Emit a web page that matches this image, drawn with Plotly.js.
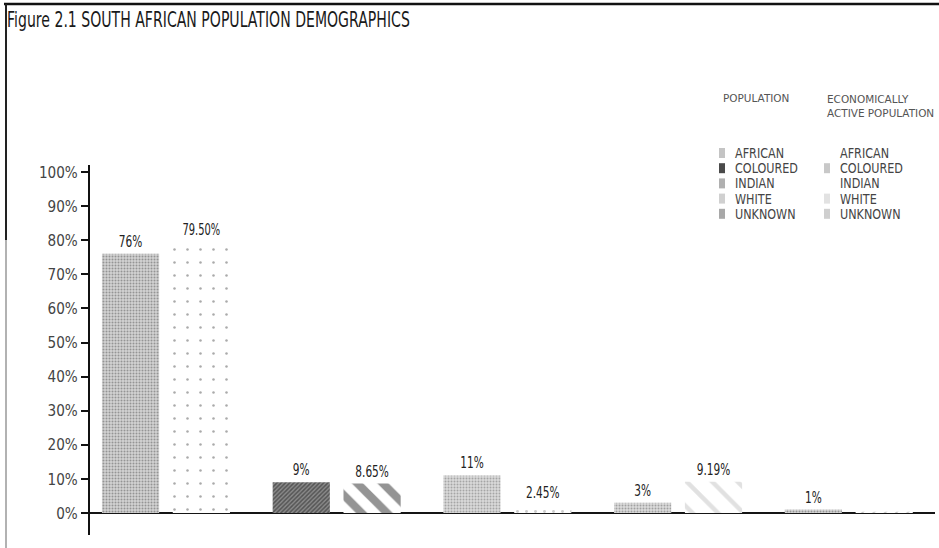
<!DOCTYPE html>
<html>
<head>
<meta charset="utf-8">
<script src="https://cdn.plot.ly/plotly-3.0.1.min.js"></script>
<style>
  html, body { margin: 0; padding: 0; background: #ffffff; }
  #chart { width: 939px; height: 548px; }
</style>
</head>
<body>
<div id="chart"></div>
<script>
// South African population vs. economically active population, by group (%)
const categories = ['AFRICAN', 'COLOURED', 'INDIAN', 'WHITE', 'UNKNOWN'];
const population = [76, 9, 11, 3, 1];
const activePopulation = [79.5, 8.65, 2.45, 9.19, 0.4];
const populationLabels = ['76%', '9%', '11%', '3%', '1%'];
const activeLabels = ['79.50%', '8.65%', '2.45%', '9.19%', ''];
const yTicks = [0, 10, 20, 30, 40, 50, 60, 70, 80, 90, 100];
const yTickText = ['0%', '10%', '20%', '30%', '40%', '50%', '60%', '70%', '80%', '90%', '100%'];
const legendHeads = ['POPULATION', 'ECONOMICALLY<br>ACTIVE POPULATION'];

const FONT = 'DejaVu Sans, sans-serif';

// Fill textures, one per group, for each series (+ a flat tone for the key swatch)
const popPatterns = [
  { color: '#d2d2d2', swatch: '#c4c4c4', pattern: { shape: '.', fillmode: 'overlay', fgcolor: '#555', size: 3, solidity: 0.35 } },
  { color: '#8a8a8a', swatch: '#4a4a4a', pattern: { shape: '/', fillmode: 'overlay', fgcolor: '#1e1e1e', size: 3, solidity: 0.5 } },
  { color: '#dadada', swatch: '#b0b0b0', pattern: { shape: '.', fillmode: 'overlay', fgcolor: '#707070', size: 3, solidity: 0.35 } },
  { color: '#dcdcdc', swatch: '#d0d0d0', pattern: { shape: '.', fillmode: 'overlay', fgcolor: '#666', size: 3, solidity: 0.35 } },
  { color: '#d6d6d6', swatch: '#a8a8a8', pattern: { shape: '.', fillmode: 'overlay', fgcolor: '#555', size: 3, solidity: 0.35 } }
];
const activePatterns = [
  { color: '#ffffff', swatch: '#ffffff', pattern: { shape: '.', fillmode: 'overlay', fgcolor: '#555', size: 13, solidity: 0.03 } },
  { color: '#ffffff', swatch: '#c8c8c8', pattern: { shape: '\\', fillmode: 'overlay', fgcolor: '#2a2a2a', size: 18, solidity: 0.45 } },
  { color: '#ffffff', swatch: '#ffffff', pattern: { shape: '.', fillmode: 'overlay', fgcolor: '#999', size: 9, solidity: 0.08 } },
  { color: '#ffffff', swatch: '#e2e2e2', pattern: { shape: '\\', fillmode: 'overlay', fgcolor: '#c4c4c4', size: 18, solidity: 0.25 } },
  { color: '#ffffff', swatch: '#cfcfcf', pattern: { shape: '/', fillmode: 'overlay', fgcolor: '#888', size: 8, solidity: 0.2 } }
];

const BAR_W = 0.335;
const LABEL_FONT = { family: FONT, size: 16, color: '#222' };
const traces = [];
categories.forEach((cat, i) => {
  traces.push({
    type: 'bar', name: cat,
    x: [cat], y: [population[i]], text: [populationLabels[i]],
    offset: -0.37, width: BAR_W,
    textposition: 'outside', cliponaxis: false, textfont: LABEL_FONT,
    marker: { color: popPatterns[i].color, pattern: popPatterns[i].pattern, line: { width: 0 } },
    hoverinfo: 'skip'
  });
});
categories.forEach((cat, i) => {
  traces.push({
    type: 'bar', name: cat,
    x: [cat], y: [activePopulation[i]], text: [activeLabels[i]],
    offset: 0.045, width: BAR_W,
    textposition: 'outside', cliponaxis: false, textfont: LABEL_FONT,
    marker: { color: activePatterns[i].color, pattern: activePatterns[i].pattern, line: { width: 0 } },
    hoverinfo: 'skip'
  });
});

// Plot-area geometry (pixels) used for the frame and the key
const M = { l: 90, r: 4, t: 165, b: 13 };
const W = 939, H = 548;
const pw = W - M.l - M.r, ph = H - M.t - M.b;
const px = v => (v - M.l) / pw;
const py = v => (H - M.b - v) / ph;

// Key: two columns (population / economically active population)
const KEY = { col: [722, 827], textDx: 11, top: 153, step: 15.2 };
const HEAD_FONT = { family: FONT, size: 11, color: '#555' };
const annotations = [
  { text: legendHeads[0], x: px(721), y: py(98) },
  { text: legendHeads[1], x: px(825), y: py(106) }
].map(a => ({
  text: a.text, xref: 'paper', yref: 'paper', x: a.x, y: a.y,
  xanchor: 'left', yanchor: 'middle', align: 'left', showarrow: false, font: HEAD_FONT
}));
const shapes = [];
[popPatterns, activePatterns].forEach((set, c) => {
  categories.forEach((cat, i) => {
    const yc = KEY.top + i * KEY.step;
    annotations.push({
      text: cat, xref: 'paper', yref: 'paper',
      x: px(KEY.col[c] + KEY.textDx), y: py(yc),
      xanchor: 'left', yanchor: 'middle', align: 'left', showarrow: false,
      font: { family: FONT, size: 14, color: '#444' }
    });
    shapes.push({
      type: 'rect', xref: 'paper', yref: 'paper',
      x0: px(KEY.col[c] - 3), x1: px(KEY.col[c] + 3),
      y0: py(yc - 5), y1: py(yc + 5),
      fillcolor: set[i].swatch, line: { width: 0 }
    });
  });
});

// page frame: top rule and left rule
shapes.push(
  { type: 'line', xref: 'paper', yref: 'paper', x0: px(4), x1: px(939), y0: py(4), y1: py(4),
    line: { color: '#111', width: 2.5 } },
  { type: 'line', xref: 'paper', yref: 'paper', x0: px(6), x1: px(6), y0: py(4), y1: py(240),
    line: { color: '#222', width: 2 } },
  { type: 'line', xref: 'paper', yref: 'paper', x0: px(6), x1: px(6), y0: py(240), y1: py(548),
    line: { color: '#999', width: 1.5 } }
);

const layout = {
  width: W, height: H,
  margin: M,
  paper_bgcolor: '#ffffff', plot_bgcolor: '#ffffff',
  barmode: 'overlay',
  showlegend: false,
  hovermode: false,
  title: {
    text: 'Figure 2.1 SOUTH AFRICAN POPULATION DEMOGRAPHICS',
    x: 7 / W, xanchor: 'left', xref: 'container',
    y: 1 - 20 / H, yanchor: 'middle', yref: 'container',
    font: { family: FONT, size: 21, color: '#1a1a1a' }
  },
  xaxis: {
    type: 'category',
    range: [-0.44, 4.51],
    showticklabels: false, ticks: '', showgrid: false,
    zeroline: false, showline: false, fixedrange: true
  },
  yaxis: {
    range: [-6.45, 102.05],
    tickvals: yTicks, ticktext: yTickText,
    ticks: 'outside', ticklen: 7, tickwidth: 2, tickcolor: '#111',
    showline: true, linecolor: '#111', linewidth: 2,
    showgrid: false,
    zeroline: true, zerolinecolor: '#151515', zerolinewidth: 2,
    tickfont: { family: FONT, size: 16, color: '#444' },
    fixedrange: true
  },
  annotations: annotations,
  shapes: shapes
};

// Squeeze the lettering into a condensed face (each element only once)
function condense(selector, k) {
  document.querySelectorAll('#chart ' + selector).forEach(t => {
    const lines = t.querySelectorAll('tspan.line');
    const parts = lines.length ? Array.from(lines) : [t];
    parts.forEach(el => {
      if (el.hasAttribute('textLength')) return;
      const len = el.getComputedTextLength();
      if (len > 0) {
        el.setAttribute('textLength', (len * k).toFixed(2));
        el.setAttribute('lengthAdjust', 'spacingAndGlyphs');
      }
    });
  });
}
function condenseAll() {
  condense('.gtitle', 0.67);
  condense('.ytick text', 0.85);
  condense('.bartext', 0.66);
  condense('.annotation[data-index="0"] .annotation-text', 0.95);
  condense('.annotation[data-index="1"] .annotation-text', 0.95);
  condense('.annotation-text', 0.8);
}

Plotly.newPlot('chart', traces, layout, { displayModeBar: false, staticPlot: true }).then(() => {
  condenseAll();
  setTimeout(condenseAll, 30);
});
</script>
</body>
</html>
